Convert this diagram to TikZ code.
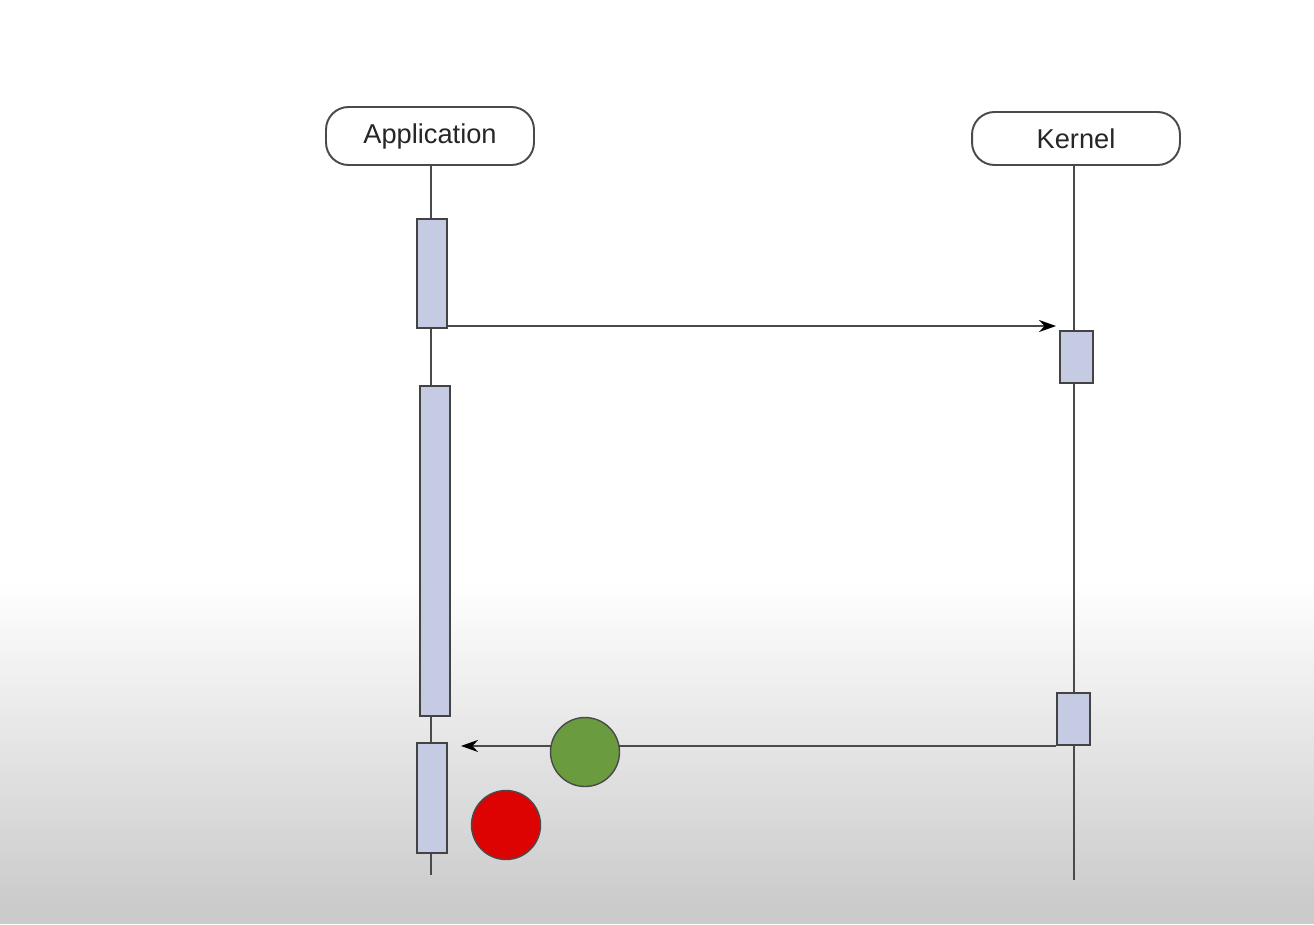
\documentclass[tikz,border=0pt]{standalone}
\usepackage{fontspec}
\setmainfont{Liberation Sans}
\usepackage{tikz}
\usetikzlibrary{arrows.meta,positioning}
\definecolor{bgbottom}{HTML}{CBCBCB}
\definecolor{linegray}{HTML}{4A4A4A}
\definecolor{barfill}{HTML}{C4CBE2}
\definecolor{okgreen}{HTML}{6A9B3E}
\definecolor{stopred}{HTML}{DE0303}
\tikzset{
  actor/.style={draw=linegray, line width=1.1pt, fill=white, rounded corners=0.45cm, minimum width=4.16cm, minimum height=1.16cm, text=black!85, font=\fontsize{15.5}{18}\selectfont},
  lifeline/.style={draw=linegray, line width=1.1pt},
  bar/.style={draw=linegray!90!black, line width=1.1pt, fill=barfill, minimum width=0.6cm, inner sep=0pt},
  msg/.style={-{Stealth[length=3.4mm, width=2.4mm, color=black]}, line width=1.3pt, draw=linegray},
  dot/.style={circle, draw=linegray, line width=0.8pt, minimum size=1.38cm, inner sep=0pt}
}
\begin{document}
\begin{tikzpicture}[x=0.02cm, y=-0.02cm]
  % background
  \fill[white] (0,0) rectangle (1314,580);
  \shade[top color=white, bottom color=bgbottom] (0,580) rectangle (1314,905);
  \fill[bgbottom] (0,905) rectangle (1314,924);
  \useasboundingbox (0,0) rectangle (1314,924);

  % actors
  \node[actor] (app) at (430,136) {Application};
  \node[actor, minimum height=1.06cm] (kernel) at (1076,138.5) {Kernel};

  % lifelines
  \coordinate (append) at (431,875);
  \coordinate (kernelend) at (1074,880);
  \draw[lifeline] (app.south -| append) -- (append);
  \draw[lifeline] (kernel.south -| kernelend) -- (kernelend);

  % activations
  \node[bar, minimum height=2.18cm] (abar1) at (432,273.5) {};
  \node[bar, minimum height=6.6cm] (abar2) at (435,551) {};
  \node[bar, minimum height=2.2cm] (abar3) at (432,798) {};
  \node[bar, minimum width=0.66cm, minimum height=1.04cm] (kbar1) at (1076.5,357) {};
  \node[bar, minimum width=0.66cm, minimum height=1.04cm] (kbar2) at (1073.5,719) {};

  % messages
  \coordinate (call) at (1056,326);
  \coordinate (ret) at (461,745);
  \draw[msg] (abar1.east |- call) -- (call);
  \draw[msg] (kbar2.south west) -- (kbar2.south west -| ret);

  % markers
  \node[dot, fill=okgreen] (ok) at (585,752) {};
  \node[dot, fill=stopred] (stop) at (506,825) {};
\end{tikzpicture}
\end{document}
